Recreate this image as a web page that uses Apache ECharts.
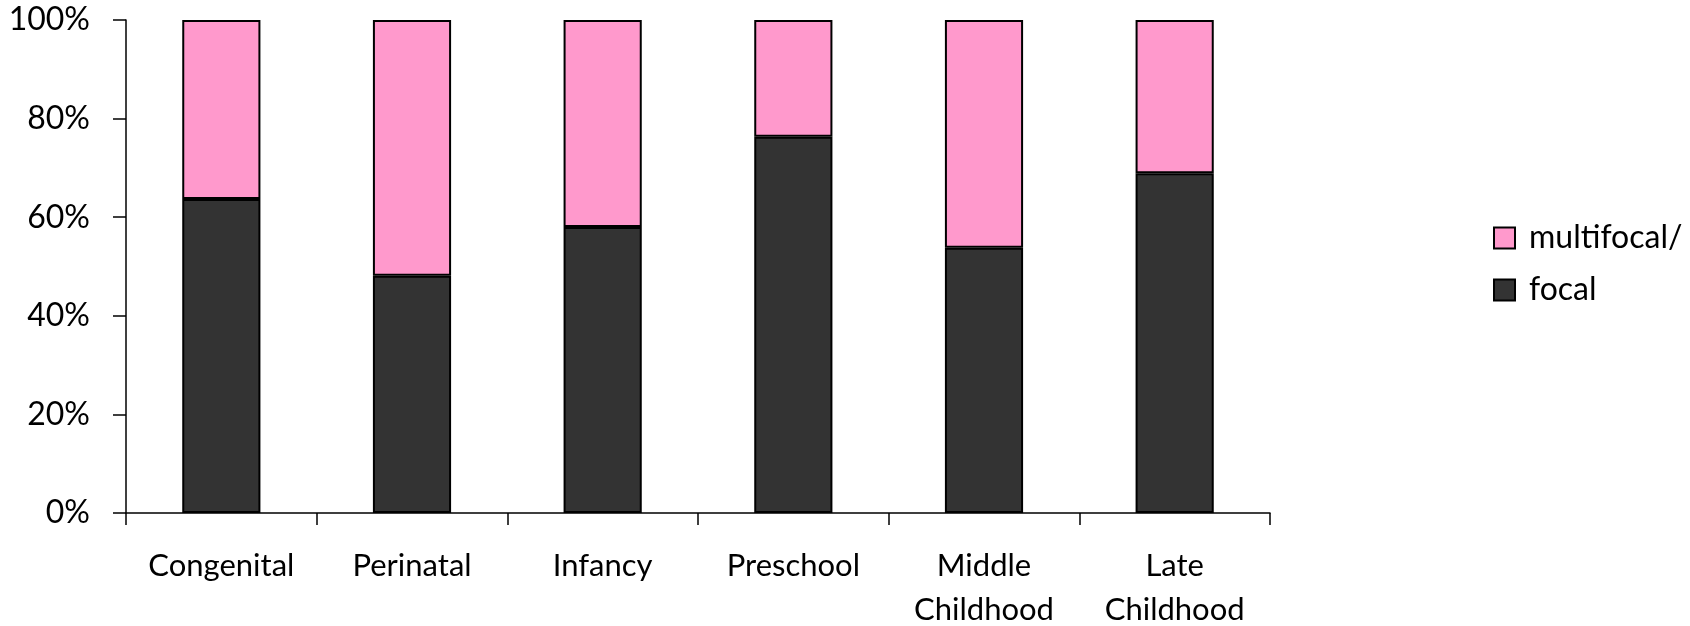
<!DOCTYPE html>
<html>
<head>
<meta charset="utf-8">
<title>Focal vs multifocal by age of onset</title>
<script src="https://cdn.jsdelivr.net/npm/echarts@6/dist/echarts.min.js"></script>
<style>
  html, body { margin: 0; padding: 0; background: #fff; }
  #chart { width: 1690px; height: 626px; }
</style>
</head>
<body>
<div id="chart"></div>
<script>
// Age-of-onset groups
const categories = ['Congenital', 'Perinatal', 'Infancy', 'Preschool', 'Middle\nChildhood', 'Late\nChildhood'];
// Share of cases (%) per group
const focal = [63.7, 48.1, 58.0, 76.3, 53.8, 68.9];
const multifocal = [36.3, 51.9, 42.0, 23.7, 46.2, 31.1];
// Percent axis ticks
const yTicks = { min: 0, max: 100, step: 20 };

const FONT = 'Lato, "Open Sans", sans-serif';
const chart = echarts.init(document.getElementById('chart'), null, { renderer: 'canvas' });

chart.setOption({
  animation: false,
  backgroundColor: '#ffffff',
  textStyle: { fontFamily: FONT, color: '#000' },
  grid: { left: 126, right: 420, top: 20, bottom: 113, containLabel: false, outerBoundsMode: 'none' },
  legend: {
    data: ['multifocal/', 'focal'],
    orient: 'vertical',
    left: 1493,
    top: 222,
    padding: 0,
    itemGap: 20,
    itemWidth: 21,
    itemHeight: 21,
    icon: 'rect',
    textStyle: { fontFamily: FONT, fontSize: 32, lineHeight: 32, color: '#000', padding: [0, 0, 0, 9] }
  },
  xAxis: {
    type: 'category',
    data: categories,
    axisLine: { lineStyle: { color: '#000', width: 1.5 } },
    axisTick: { show: true, length: 12, inside: false, alignWithLabel: false, lineStyle: { color: '#000', width: 1.5 } },
    axisLabel: { fontFamily: FONT, fontSize: 31, lineHeight: 44, color: '#000', margin: 31, interval: 0 }
  },
  yAxis: {
    type: 'value',
    min: yTicks.min,
    max: yTicks.max,
    interval: yTicks.step,
    splitLine: { show: false },
    axisLine: { show: true, lineStyle: { color: '#000', width: 1.5 } },
    axisTick: { show: true, length: 13, lineStyle: { color: '#000', width: 1.5 } },
    axisLabel: { fontFamily: FONT, fontSize: 32, color: '#000', margin: 36, formatter: '{value}%' }
  },
  series: [
    {
      name: 'focal',
      type: 'bar',
      stack: 'onset',
      barWidth: '41%',
      data: focal,
      itemStyle: { color: '#333333', borderColor: '#000', borderWidth: 2 }
    },
    {
      name: 'multifocal/',
      type: 'bar',
      stack: 'onset',
      barWidth: '41%',
      data: multifocal,
      itemStyle: { color: '#FF99CC', borderColor: '#000', borderWidth: 2 }
    }
  ]
});
</script>
</body>
</html>
